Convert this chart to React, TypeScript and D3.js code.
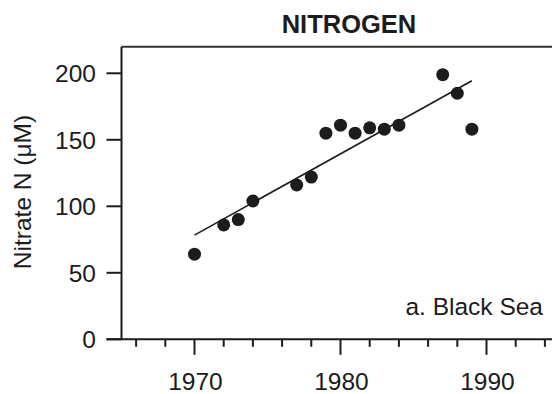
import React from "react";
import * as d3 from "d3";

const title = "NITROGEN";
const yLabel = "Nitrate N (μM)";
const panelLabel = "a. Black Sea";
const years = [1970, 1972, 1973, 1974, 1977, 1978, 1979, 1980, 1981, 1982, 1983, 1984, 1987, 1988, 1989];
const nitrate = [64, 86, 90, 104, 116, 122, 155, 161, 155, 159, 158, 161, 199, 185, 158];
const yTicks = [0, 50, 100, 150, 200];
const xMajorTicks = [1970, 1980, 1990];
const xMinorTicks = [1966, 1968, 1972, 1974, 1976, 1978, 1982, 1984, 1986, 1988, 1992, 1994];

const W = 552;
const H = 394;
const FONT = "'Liberation Sans', Arial, Helvetica, sans-serif";
const INK = "#1c1c1c";

export default function App() {
  const x = d3.scaleLinear().domain([1965, 1995]).range([121.5, 559.5]);
  const y = d3.scaleLinear().domain([0, 220]).range([339.3, 46.7]);

  // least-squares regression
  const mx = d3.mean(years) as number;
  const my = d3.mean(nitrate) as number;
  let sxy = 0;
  let sxx = 0;
  years.forEach((yr, i) => {
    sxy += (yr - mx) * (nitrate[i] - my);
    sxx += (yr - mx) * (yr - mx);
  });
  const slope = sxy / sxx;
  const icpt = my - slope * mx;
  const x0 = d3.min(years) as number;
  const x1 = d3.max(years) as number;
  const line = d3.line<number>().x((d) => x(d)).y((d) => y(icpt + slope * d));

  const [xl, xr] = x.range();
  const [yb, yt] = y.range();

  return (
    <svg
      width={W}
      height={H}
      style={{ position: "fixed", left: 0, top: 0, background: "#fff" }}
      fontFamily={FONT}
    >
      <rect x={0} y={0} width={W} height={H} fill="#fff" />
      {/* title */}
      <text x={349} y={33} textAnchor="middle" fontSize={25.5} fontWeight="bold" fill={INK}>
        {title}
      </text>
      {/* frame */}
      <line x1={xl} x2={xr} y1={yt} y2={yt} stroke="#333" strokeWidth={2} />
      <line x1={xr} x2={xr} y1={yt} y2={yb} stroke="#333" strokeWidth={2} />
      <line x1={xl} x2={xl} y1={yt} y2={yb} stroke={INK} strokeWidth={2} />
      <line x1={xl - 15} x2={xr} y1={yb} y2={yb} stroke={INK} strokeWidth={2} />
      {/* y ticks */}
      {yTicks.map((t) => (
        <g key={"y" + t}>
          <line x1={xl - 15} x2={xl} y1={y(t)} y2={y(t)} stroke={INK} strokeWidth={2} />
          <text x={96} y={y(t)} dy="0.36em" textAnchor="end" fontSize={24.5} fill={INK}>
            {t}
          </text>
        </g>
      ))}
      {/* x ticks */}
      {xMinorTicks.map((t) => (
        <line key={"m" + t} x1={x(t)} x2={x(t)} y1={yb} y2={yb + 7.5} stroke={INK} strokeWidth={2} />
      ))}
      {xMajorTicks.map((t) => (
        <g key={"x" + t}>
          <line x1={x(t)} x2={x(t)} y1={yb} y2={yb + 15.5} stroke={INK} strokeWidth={2} />
          <text x={x(t) + 1} y={390} textAnchor="middle" fontSize={24.5} fill={INK}>
            {t}
          </text>
        </g>
      ))}
      {/* y label */}
      <text
        transform={`translate(31,${(yt + yb) / 2 - 1}) rotate(-90)`}
        textAnchor="middle"
        fontSize={24.5}
        fill={INK}
      >
        {yLabel}
      </text>
      {/* regression */}
      <path d={line([x0, x1]) as string} fill="none" stroke={INK} strokeWidth={1.6} />
      {/* points */}
      {years.map((yr, i) => (
        <circle key={yr} cx={x(yr)} cy={y(nitrate[i])} r={6.5} fill={INK} />
      ))}
      {/* panel label */}
      <text x={543} y={315} textAnchor="end" fontSize={24.5} fill={INK}>
        {panelLabel}
      </text>
    </svg>
  );
}
